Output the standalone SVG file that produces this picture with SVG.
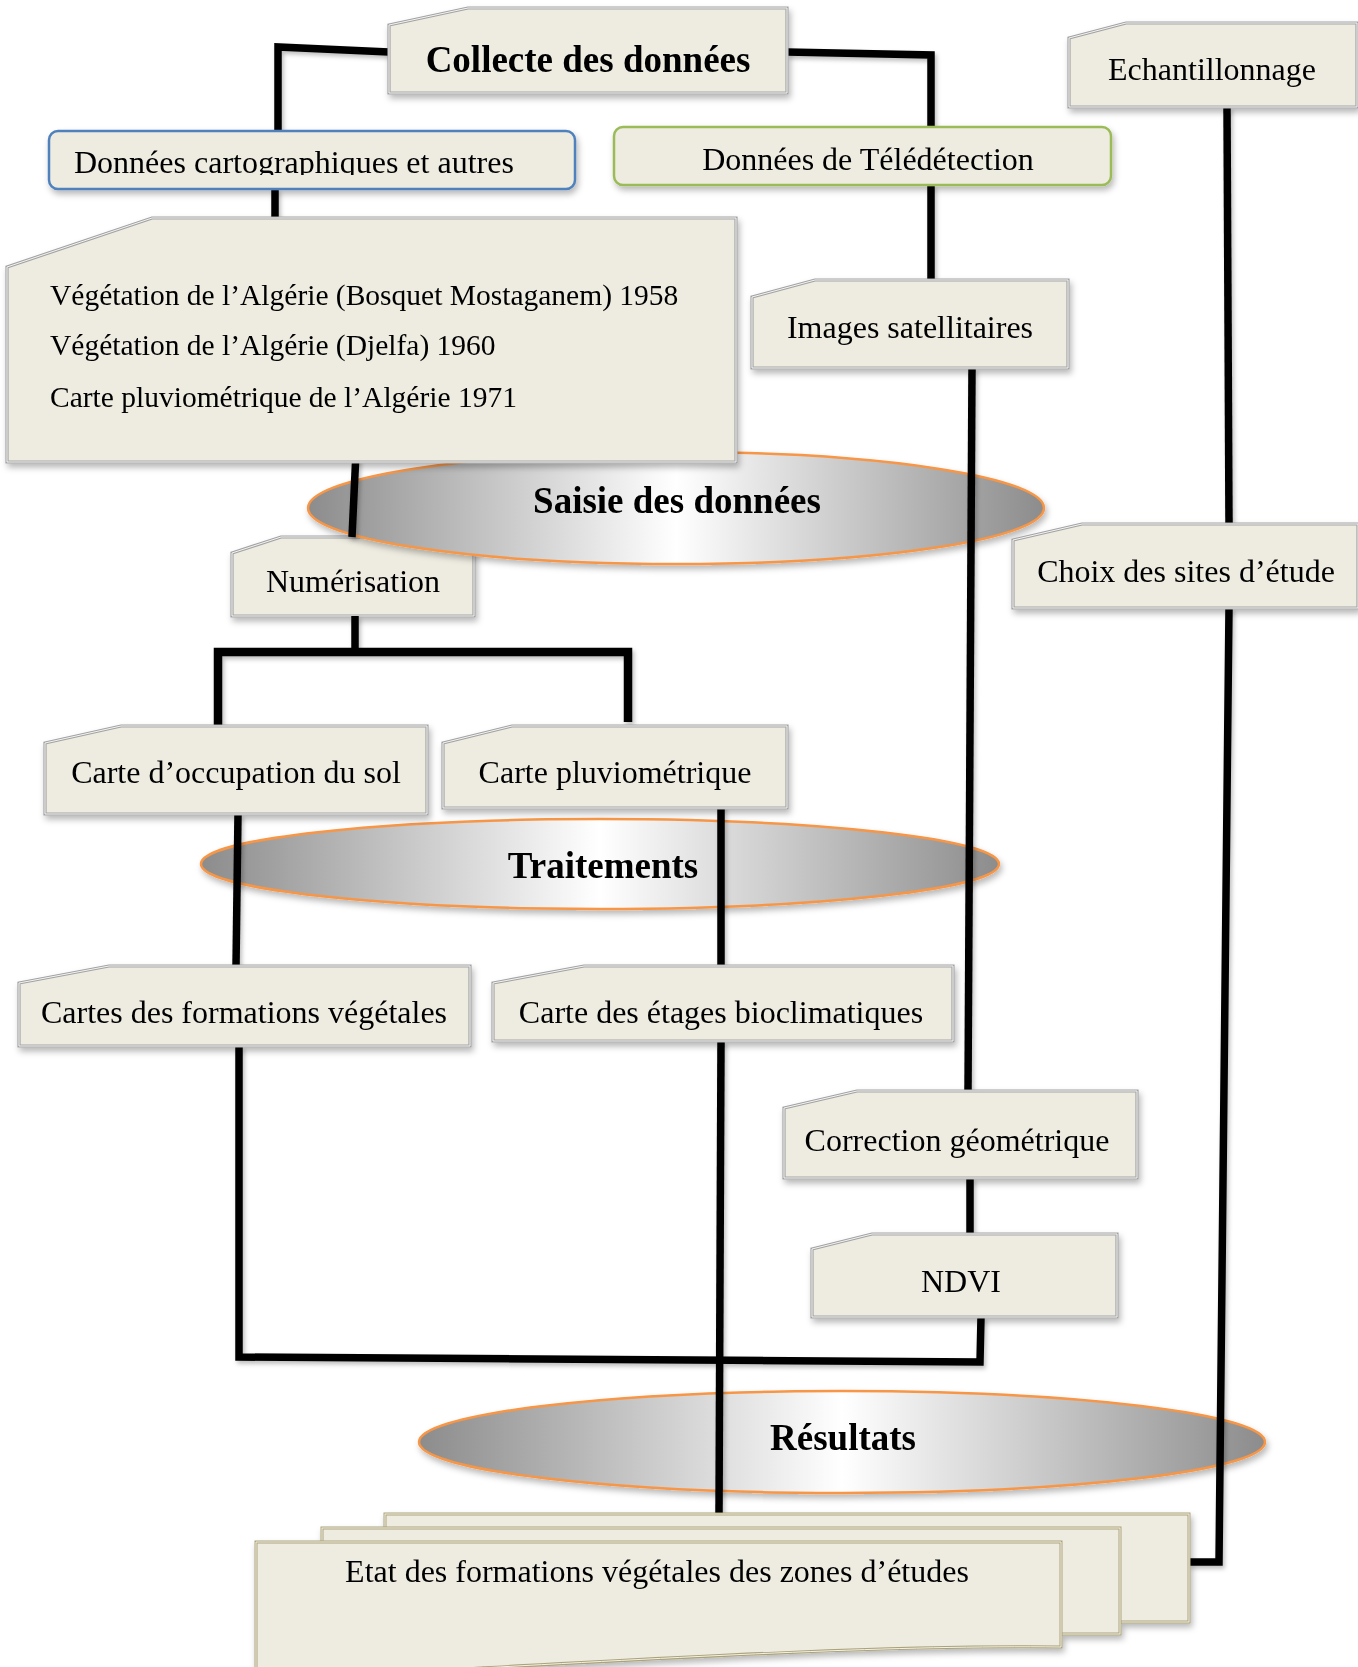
<svg xmlns="http://www.w3.org/2000/svg" width="1358" height="1667" viewBox="0 0 1358 1667">
<defs>
<style>
.box{fill:#eeece1;stroke:#a3a3a3;stroke-width:3.2}
.inner{fill:none;stroke:#f4f4f4;stroke-width:1}
.page{fill:#eeece1;stroke:#aaa27a;stroke-width:3}
.pinner{fill:none;stroke:#f4f2e6;stroke-width:1}
.t{font-family:"Liberation Serif","Times New Roman",serif;font-size:32px;fill:#000}
.tv{font-family:"Liberation Serif","Times New Roman",serif;font-size:29.5px;fill:#000}
.tb{font-family:"Liberation Serif","Times New Roman",serif;font-size:37px;font-weight:bold;fill:#000}
.ell{fill:url(#eg);stroke:#f79646;stroke-width:2.5}
.con{fill:none;stroke:#000;stroke-width:7.5;stroke-linejoin:miter}
</style>
<linearGradient id="eg" x1="0" y1="0" x2="1" y2="0">
<stop offset="0" stop-color="#8c8c8c"/>
<stop offset="0.5" stop-color="#ffffff"/>
<stop offset="1" stop-color="#8c8c8c"/>
</linearGradient>
<filter id="sh" x="-10%" y="-10%" width="125%" height="140%">
<feDropShadow dx="2" dy="4" stdDeviation="3" flood-color="#000" flood-opacity="0.28"/>
</filter>
<filter id="shl" x="-20%" y="-5%" width="140%" height="115%">
<feDropShadow dx="2" dy="3" stdDeviation="2" flood-color="#000" flood-opacity="0.25"/>
</filter>
<clipPath id="clipCart"><rect x="49" y="131" width="526" height="44"/></clipPath>
</defs>

<g id="numerisation" filter="url(#sh)">
<polygon class="box" points="232,553 281,537 474,537 474,616 232,616"/>
<polygon class="inner" points="232,553 281,537 474,537 474,616 232,616"/>
<text class="t" x="353" y="592" text-anchor="middle">Numérisation</text>
</g>

<g id="saisie" filter="url(#sh)">
<ellipse class="ell" cx="676" cy="508" rx="368" ry="56"/>
<text class="tb" x="677" y="513" text-anchor="middle">Saisie des données</text>
</g>

<g id="traitements" filter="url(#sh)">
<ellipse class="ell" cx="600" cy="864" rx="399" ry="45"/>
<text class="tb" x="603" y="878" text-anchor="middle">Traitements</text>
</g>

<g id="resultats" filter="url(#sh)">
<ellipse class="ell" cx="842" cy="1442" rx="423" ry="51"/>
<text class="tb" x="843" y="1450" text-anchor="middle">Résultats</text>
</g>

<g id="connectors" filter="url(#shl)">
<polyline class="con" points="389,52 278,47 278,131"/>
<line class="con" x1="275" y1="189" x2="275" y2="218"/>
<polyline class="con" points="787,52 931,55 931,127"/>
<line class="con" x1="931" y1="185" x2="931" y2="280"/>
<line class="con" x1="972" y1="368" x2="968" y2="1091"/>
<line class="con" x1="1227" y1="107" x2="1229" y2="524"/>
<polyline class="con" points="1229,608 1219,1562 1189,1562"/>
<line class="con" x1="356" y1="452" x2="352" y2="537"/>
<line class="con" x1="355" y1="616" x2="355" y2="652"/>
<polyline class="con" points="218,726 218,652 628,652 628,722" style="stroke-width:8.5"/>
<line class="con" x1="238" y1="814" x2="236" y2="966"/>
<line class="con" x1="721" y1="803" x2="721" y2="966"/>
<polyline class="con" points="239,1046 239,1357 980,1362 981,1317"/>
<line class="con" x1="721" y1="1041" x2="719" y2="1514"/>
<line class="con" x1="970" y1="1178" x2="970" y2="1234"/>
<line class="con" x1="718" y1="1540" x2="718" y2="1543" style="stroke:#555"/>
</g>

<g id="collecte" filter="url(#sh)">
<polygon class="box" points="389,25 468,8 787,8 787,93 389,93"/>
<polygon class="inner" points="389,25 468,8 787,8 787,93 389,93"/>
<text class="tb" x="588" y="72" text-anchor="middle">Collecte des données</text>
</g>

<g id="donnees-cartographiques" filter="url(#sh)">
<rect x="49" y="131" width="526" height="58" rx="9" fill="#eeece1" stroke="#4f81bd" stroke-width="2.5"/>
<text class="t" x="74" y="173" clip-path="url(#clipCart)">Données cartographiques et autres</text>
</g>

<g id="donnees-teledetection" filter="url(#sh)">
<rect x="614" y="127" width="497" height="58" rx="9" fill="#eeece1" stroke="#9bbb59" stroke-width="2.5"/>
<text class="t" x="868" y="170" text-anchor="middle">Données de Télédétection</text>
</g>

<g id="echantillonnage" filter="url(#sh)">
<polygon class="box" points="1069,38 1126,23 1357,23 1357,107 1069,107"/>
<polygon class="inner" points="1069,38 1126,23 1357,23 1357,107 1069,107"/>
<text class="t" x="1212" y="80" text-anchor="middle">Echantillonnage</text>
</g>

<g id="vegetation" filter="url(#sh)">
<polygon class="box" points="7,267 152,218 736,218 736,462 7,462"/>
<polygon class="inner" points="7,267 152,218 736,218 736,462 7,462"/>
<text class="tv" x="50" y="305">Végétation de l’Algérie (Bosquet Mostaganem) 1958</text>
<text class="tv" x="50" y="355">Végétation de l’Algérie (Djelfa) 1960</text>
<text class="tv" x="50" y="407">Carte pluviométrique de l’Algérie 1971</text>
</g>

<g id="images-satellitaires" filter="url(#sh)">
<polygon class="box" points="752,297 815,280 1068,280 1068,368 752,368"/>
<polygon class="inner" points="752,297 815,280 1068,280 1068,368 752,368"/>
<text class="t" x="910" y="338" text-anchor="middle">Images satellitaires</text>
</g>

<g id="choix" filter="url(#sh)">
<polygon class="box" points="1013,540 1082,524 1358,524 1358,608 1013,608"/>
<polygon class="inner" points="1013,540 1082,524 1358,524 1358,608 1013,608"/>
<text class="t" x="1186" y="582" text-anchor="middle">Choix des sites d’étude</text>
</g>

<g id="carte-occupation" filter="url(#sh)">
<polygon class="box" points="45,743 121,726 427,726 427,814 45,814"/>
<polygon class="inner" points="45,743 121,726 427,726 427,814 45,814"/>
<text class="t" x="236" y="783" text-anchor="middle">Carte d’occupation du sol</text>
</g>

<g id="carte-pluvio" filter="url(#sh)">
<polygon class="box" points="443,743 512,726 787,726 787,808 443,808"/>
<polygon class="inner" points="443,743 512,726 787,726 787,808 443,808"/>
<text class="t" x="615" y="783" text-anchor="middle">Carte pluviométrique</text>
</g>

<g id="cartes-formations" filter="url(#sh)">
<polygon class="box" points="19,983 109,966 470,966 470,1046 19,1046"/>
<polygon class="inner" points="19,983 109,966 470,966 470,1046 19,1046"/>
<text class="t" x="244" y="1023" text-anchor="middle">Cartes des formations végétales</text>
</g>

<g id="carte-etages" filter="url(#sh)">
<polygon class="box" points="493,983 584,966 953,966 953,1041 493,1041"/>
<polygon class="inner" points="493,983 584,966 953,966 953,1041 493,1041"/>
<text class="t" x="721" y="1023" text-anchor="middle">Carte des étages bioclimatiques</text>
</g>

<g id="correction" filter="url(#sh)">
<polygon class="box" points="784,1108 857,1091 1137,1091 1137,1178 784,1178"/>
<polygon class="inner" points="784,1108 857,1091 1137,1091 1137,1178 784,1178"/>
<text class="t" x="957" y="1151" text-anchor="middle">Correction géométrique</text>
</g>

<g id="ndvi" filter="url(#sh)">
<polygon class="box" points="812,1249 872,1234 1117,1234 1117,1317 812,1317"/>
<polygon class="inner" points="812,1249 872,1234 1117,1234 1117,1317 812,1317"/>
<text class="t" x="961" y="1292" text-anchor="middle">NDVI</text>
</g>

<g id="etat" filter="url(#sh)">
<rect class="page" x="385" y="1514" width="804" height="108"/>
<rect class="pinner" x="385" y="1514" width="804" height="108"/>
<rect class="page" x="322" y="1528" width="798" height="106"/>
<rect class="pinner" x="322" y="1528" width="798" height="106"/>
<path class="page" d="M256,1542 L1061,1542 L1061,1647 C900,1645 700,1656 480,1668 L256,1685 Z"/>
<path class="pinner" d="M256,1542 L1061,1542 L1061,1647 C900,1645 700,1656 480,1668 L256,1685 Z"/>
<text class="t" x="657" y="1582" text-anchor="middle">Etat des formations végétales des zones d’études</text>
</g>
</svg>
